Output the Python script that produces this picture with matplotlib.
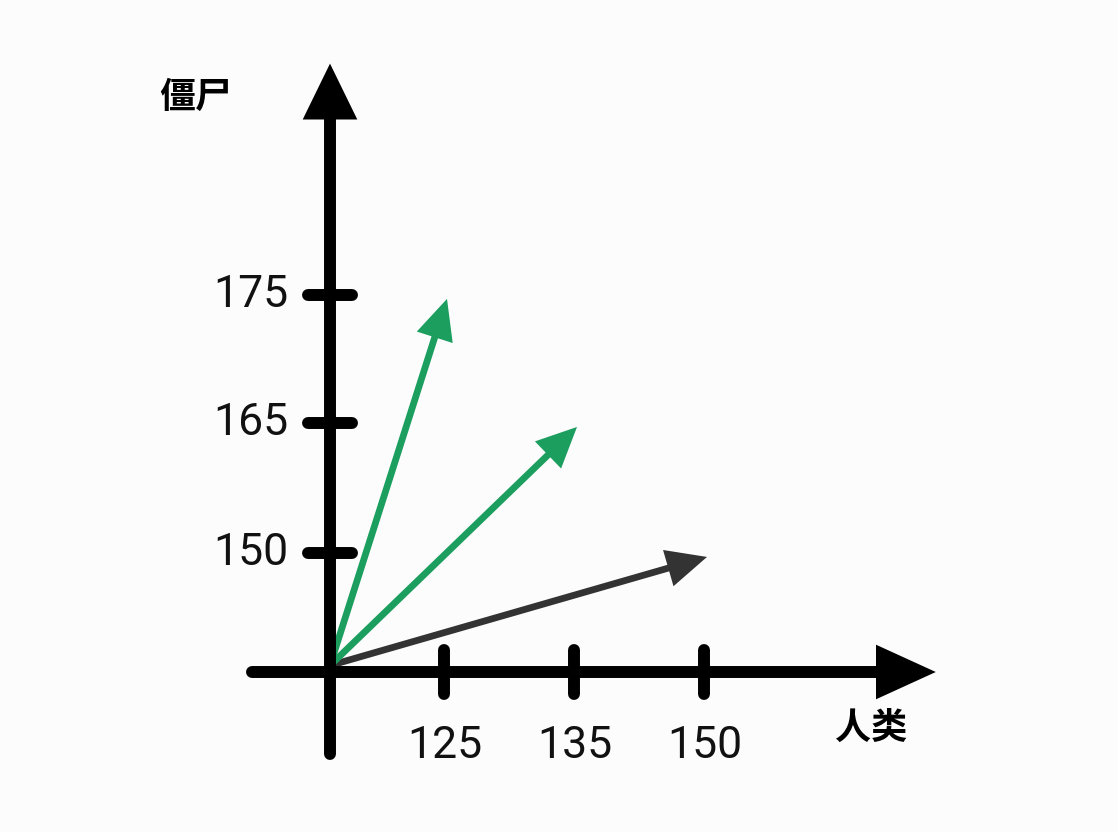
import matplotlib.pyplot as plt
import numpy as np

# tick values shown on the axes
human_ticks = [125, 135, 150]
zombie_ticks = [150, 165, 175]

# vectors (human, zombie)
vec_human = [150, 135, 125]
vec_zombie = [150, 165, 175]
vec_colors = ["#333333", "#1b9e5e", "#1b9e5e"]

# schematic tick positions (one unit ~ one tick step)
xpos = {125: 0.88, 135: 1.88, 150: 2.88}
ypos = {150: 0.915, 165: 1.915, 175: 2.9}

fig = plt.figure(figsize=(11.18, 8.32), dpi=100)
fig.patch.set_facecolor("#fcfcfd")
ax = fig.add_axes([0, 0, 1, 1])
ax.set_facecolor("#fcfcfd")
u = 130.0
ax.set_xlim(-330 / u, (1118 - 330) / u)
ax.set_ylim(-160 / u, 672 / u)
ax.axis("off")

lw_axis = 8.6
# axes with arrowheads
ax.plot([-0.6, 4.3], [0, 0], color="black", lw=lw_axis, solid_capstyle="round")
ax.plot([0, 0], [-0.63, 4.3], color="black", lw=lw_axis, solid_capstyle="round")
ax.fill([4.2, 4.66, 4.2], [-0.21, 0, 0.21], color="black", lw=0)
ax.fill([-0.21, 0, 0.21], [4.25, 4.68, 4.25], color="black", lw=0)

# ticks
for v in human_ticks:
    x = xpos[v]
    ax.plot([x, x], [-0.17, 0.17], color="black", lw=lw_axis, solid_capstyle="round")
    ax.text(x, -0.57, str(v), ha="center", va="center", fontsize=32,
            family="Roboto", color="#111111")
for v in zombie_ticks:
    y = ypos[v]
    ax.plot([-0.17, 0.17], [y, y], color="black", lw=lw_axis, solid_capstyle="round")
    ax.text(-0.32, y, str(v), ha="right", va="center", fontsize=32,
            family="Roboto", color="#111111")

# vectors
for h, z, c in zip(vec_human, vec_zombie, vec_colors):
    x, y = xpos[h] + 0.02, ypos[z] - 0.03
    ax.arrow(0, 0.05, x, y - 0.05, width=0.052, head_width=0.29, head_length=0.31,
             length_includes_head=True, color=c, lw=0)

ax.text(-1.04, 4.42, "僵尸", ha="center", va="center", fontsize=26,
        fontweight="bold", family=["Noto Sans CJK SC", "DejaVu Sans"])
ax.text(4.16, -0.43, "人类", ha="center", va="center", fontsize=26,
        fontweight="bold", family=["Noto Sans CJK SC", "DejaVu Sans"])

fig.savefig("out.png", dpi=100, facecolor=fig.get_facecolor())
